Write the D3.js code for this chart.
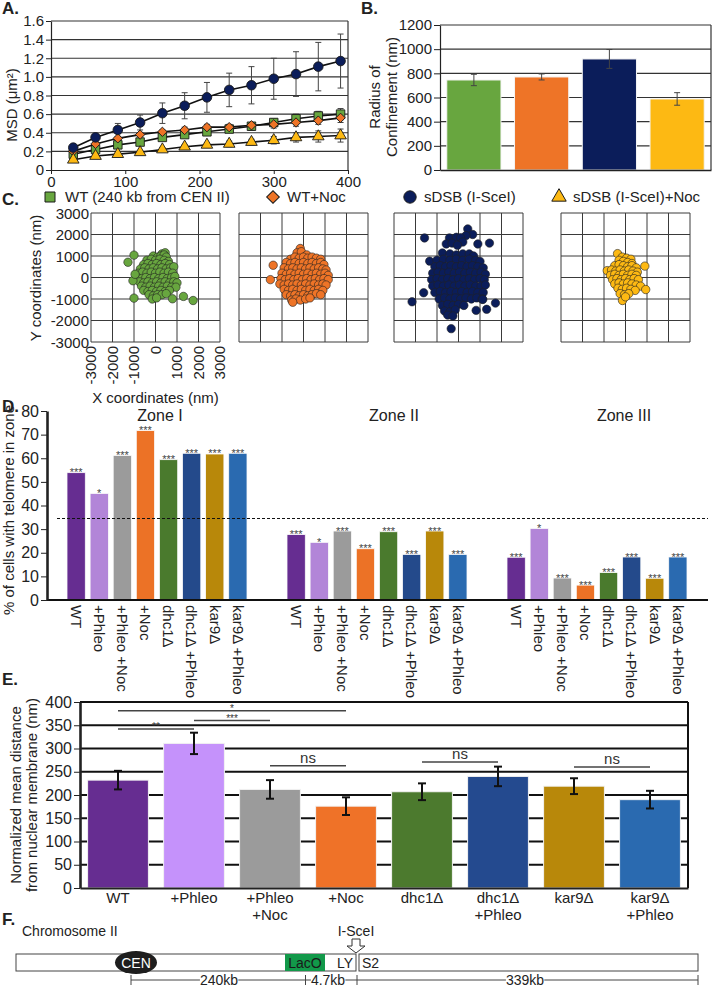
<!DOCTYPE html>
<html><head><meta charset="utf-8">
<script src="https://cdn.jsdelivr.net/npm/d3@7"></script>
<style>body{margin:0;background:#fff} svg{display:block}</style>
</head><body><svg id="c" width="712" height="989"></svg>
<script>
// ---------------- DATA ----------------
const msdTime = [30,60,90,120,150,180,210,240,270,300,330,360,390];
const msdWT     = [0.17,0.22,0.27,0.30,0.35,0.38,0.41,0.44,0.47,0.51,0.55,0.58,0.60];
const msdWTErr  = [0.01,0.01,0.02,0.02,0.02,0.02,0.03,0.03,0.04,0.04,0.05,0.05,0.06];
const msdNoc    = [0.20,0.28,0.34,0.38,0.41,0.43,0.46,0.46,0.48,0.49,0.51,0.53,0.56];
const msdNocErr = [0.01,0.02,0.02,0.02,0.02,0.03,0.03,0.03,0.03,0.04,0.04,0.04,0.05];
const msdDSB    = [0.24,0.35,0.43,0.51,0.61,0.69,0.78,0.86,0.91,0.98,1.03,1.11,1.17];
const msdDSBErr = [0.02,0.03,0.07,0.08,0.11,0.14,0.16,0.18,0.20,0.22,0.24,0.26,0.29];
const msdDSBNoc    = [0.11,0.15,0.17,0.19,0.22,0.25,0.27,0.28,0.30,0.32,0.35,0.36,0.37];
const msdDSBNocErr = [0.01,0.01,0.01,0.01,0.02,0.02,0.02,0.03,0.03,0.04,0.05,0.06,0.07];
const msdXTicks = [0,100,200,300,400];
const msdYTicks = [0,0.2,0.4,0.6,0.8,1.0,1.2,1.4,1.6];

const conditionLabels = ["WT (240 kb from CEN II)","WT+Noc","sDSB (I-SceI)","sDSB (I-SceI)+Noc"];
const confValues = [745,770,919,588];
const confErr    = [47,25,78,52];
const confYTicks = [0,200,400,600,800,1000,1200];

const coordTicks = [-3000,-2000,-1000,0,1000,2000,3000];
const scatterWT = [[300,1100],[450,1150],[-100,1000],[100,950],[250,1000],[400,1050],[500,950],
[-400,800],[-200,850],[0,800],[200,850],[400,800],[600,750],
[-550,600],[-350,650],[-150,600],[50,650],[250,600],[450,650],[650,600],
[-700,400],[-500,450],[-300,400],[-100,450],[100,400],[300,450],[500,400],[700,450],[850,500],
[-800,200],[-600,250],[-400,200],[-200,250],[0,200],[200,250],[400,200],[600,250],[800,200],
[-850,0],[-650,-50],[-450,0],[-250,-50],[-50,0],[150,-50],[350,0],[550,-50],[750,0],[900,50],
[-750,-200],[-550,-250],[-350,-200],[-150,-250],[50,-200],[250,-250],[450,-200],[650,-250],[850,-200],[1000,-250],
[-650,-400],[-450,-450],[-250,-400],[-50,-450],[150,-400],[350,-450],[550,-400],[750,-450],[950,-450],
[-550,-600],[-350,-650],[-150,-600],[50,-650],[250,-600],[450,-650],[650,-600],
[-300,-800],[-100,-850],[100,-800],[300,-800],[500,-750],[-150,-1000],[50,-950],
[-1280,710],[-1000,1040],[-1000,-960],[790,-990],[1300,-880],[1750,-1070],[-1050,-150],[-950,150]];
const scatterWTNoc = [[-150,1350],[-300,1150],[-100,1200],[150,1050],
[-600,850],[-400,950],[-200,900],[0,950],[200,900],[400,950],[600,900],[800,850],
[-800,700],[-600,650],[-400,700],[-200,650],[0,700],[200,650],[400,700],[600,650],[800,700],[950,600],
[-900,450],[-700,400],[-500,450],[-300,400],[-100,450],[100,400],[300,450],[500,400],[700,450],[900,400],[1050,350],
[-1000,200],[-800,150],[-600,200],[-400,150],[-200,200],[0,150],[200,200],[400,150],[600,200],[800,150],[1000,200],[1150,100],
[-1050,-50],[-850,-100],[-650,-50],[-450,-100],[-250,-50],[-50,-100],[150,-50],[350,-100],[550,-50],[750,-100],[950,-50],[1150,-100],
[-1100,-300],[-900,-350],[-700,-300],[-500,-350],[-300,-300],[-100,-350],[100,-300],[300,-350],[500,-300],[700,-350],[900,-300],[1050,-350],
[-900,-550],[-700,-600],[-500,-550],[-300,-600],[-100,-550],[100,-600],[300,-550],[500,-600],[700,-550],[900,-600],
[-800,-800],[-600,-850],[-400,-800],[-200,-850],[0,-800],[200,-850],[400,-800],[600,-750],[800,-800],
[-550,-1050],[-350,-1000],[-150,-1050],[100,-1000],[300,-950],[-500,-1150],
[-1410,570],[-1540,-100]];
const scatterDSB = [[430,2260],[660,2000],[350,1950],[-420,1840],[-100,1870],[100,1850],[-570,1560],[-300,1600],[900,1560],[1440,1600],[-1580,1840],[200,1650],[-50,1500],
[-750,1140],[-400,1100],[-100,1050],[200,1100],[500,1100],[700,1000],
[-1340,760],[-1000,800],[-700,850],[-400,800],[-100,850],[200,800],[500,850],[800,800],[1000,750],
[-1100,500],[-850,550],[-600,500],[-350,550],[-100,500],[150,550],[400,500],[650,550],[900,500],[1150,450],
[-1200,200],[-950,250],[-700,200],[-450,250],[-200,200],[50,250],[300,200],[550,250],[800,200],[1050,250],[1250,150],
[-1250,-100],[-1000,-50],[-750,-100],[-500,-50],[-250,-100],[0,-50],[250,-100],[500,-50],[750,-100],[1000,-50],[1200,-100],
[-1200,-400],[-950,-350],[-700,-400],[-450,-350],[-200,-400],[50,-350],[300,-400],[550,-350],[800,-400],[1050,-400],[1250,-350],
[-1100,-700],[-850,-650],[-600,-700],[-350,-650],[-100,-700],[150,-650],[400,-700],[650,-650],[900,-700],[1150,-700],
[-900,-1000],[-650,-950],[-400,-1000],[-150,-950],[100,-1000],[350,-950],[600,-1000],[850,-950],[1100,-1000],
[-750,-1300],[-500,-1250],[-250,-1300],[0,-1250],[250,-1300],
[-650,-1560],[-400,-1600],[-150,-1500],[-500,-1750],[-260,-1790],
[-2160,-1130],[-1620,-710],[-340,-2380],[820,-1530],[1310,-1480],[1720,-1190],[1130,-1020]];
const scatterDSBNoc = [[-370,1110],[-150,950],[50,900],[250,850],[-300,800],[-100,750],[100,700],[300,650],
[-500,550],[-300,600],[-100,550],[100,500],[300,550],[500,450],[900,530],
[-850,320],[-650,350],[-450,300],[-250,350],[-50,300],[150,350],[350,300],[550,250],
[-700,100],[-500,150],[-300,100],[-100,150],[100,100],[300,150],[500,100],
[-600,-100],[-400,-50],[-200,-100],[0,-50],[200,-100],[400,-50],[600,-100],
[-500,-300],[-300,-250],[-100,-300],[100,-250],[300,-300],[500,-350],[700,-400],[940,-560],
[-350,-500],[-150,-550],[50,-500],[250,-550],[450,-600],[-250,-750],[-50,-800],[150,-750],[-140,-1070],[0,-900]];

const zoneNames = ["Zone I","Zone II","Zone III"];
const strainLabels = ["WT","+Phleo","+Phleo +Noc","+Noc","dhc1Δ","dhc1Δ +Phleo","kar9Δ","kar9Δ +Phleo"];
const zone1 = [53.9,45.1,61.2,71.7,59.4,62.1,61.8,62.1];
const zone2 = [27.7,24.4,29.2,21.7,28.9,19.3,29.2,19.3];
const zone3 = [18.1,30.3,9.3,6.3,11.6,18.2,9.2,18.2];
const zone1Stars = ["***","*","***","***","***","***","***","***"];
const zone2Stars = ["***","*","***","***","***","***","***","***"];
const zone3Stars = ["***","*","***","***","***","***","***","***"];
const zoneRandom = 34.5;
const zoneYTicks = [0,10,20,30,40,50,60,70,80];

const distLabels = [["WT"],["+Phleo"],["+Phleo","+Noc"],["+Noc"],["dhc1Δ"],["dhc1Δ","+Phleo"],["kar9Δ"],["kar9Δ","+Phleo"]];
const distValues = [232,311,212,176,207,240,219,190];
const distErr    = [20,23,20,19,18,21,17,19];
const distYTicks = [0,50,100,150,200,250,300,350,400];
const distBrackets = [
  {a:0,b:3,level:381,label:"*"},
  {a:1,b:2,level:360,label:"***"},
  {a:0,b:1,level:342,label:"**"},
  {a:2,b:3,level:263,label:"ns"},
  {a:4,b:5,level:271,label:"ns"},
  {a:6,b:7,level:260,label:"ns"}
];
const mapLabels = {chrom:"Chromosome II", site:"I-SceI", cen:"CEN", laco:"LacO", ly:"LY", s2:"S2"};
const mapDistances = ["240kb","4.7kb","339kb"];

// ---------------- STYLE ----------------
const FONT = "Liberation Sans, Arial, Helvetica, sans-serif";
const INK = "#222";
const cGreen="#68a63f", cOrange="#ee7427", cNavy="#0b1d5a", cYellow="#fdb913";
const dColors = ["#662d91","#b285d8","#9b9b9b","#ec7226","#4a7a2d","#244a8b","#b8880a","#2a6ab0"];
const eColors = ["#662d91","#c592fb","#9b9b9b","#ef7228","#4c7a2e","#244a8f","#b8880a","#2a6ab0"];

const svg = d3.select("#c").attr("font-family", FONT);
svg.append("rect").attr("width",712).attr("height",989).attr("fill","#fff");

function txt(g,x,y,t,o={}){
  const e=g.append("text").attr("x",x).attr("y",y).text(t)
    .attr("font-size",o.fs||14).attr("fill",o.fill||INK)
    .attr("text-anchor",o.anchor||"start");
  if(o.bold) e.attr("font-weight","bold");
  if(o.rot) e.attr("transform",`rotate(${o.rot},${x},${y})`);
  return e;
}
function styleAxis(g,fs,sw){
  g.attr("font-family",FONT).attr("font-size",fs);
  g.selectAll("text").attr("fill",INK);
  g.selectAll("line").attr("stroke",INK);
  g.selectAll("path.domain").attr("stroke",INK).attr("stroke-width",sw||1);
}
// panel letters
[["A.",2,14],["B.",361,14],["C.",2,205],["D.",2,412],["E.",2,685],["F.",2,925]].forEach(p=>txt(svg,p[1],p[2],p[0],{fs:17,bold:true}));

// ---------------- A ----------------
{
const g=svg.append("g");
const x=d3.scaleLinear().domain([0,400]).range([51,348]);
const y=d3.scaleLinear().domain([0,1.6]).range([170,21]);
g.selectAll("line.grid").data(msdYTicks.filter(d=>d>0)).join("line")
  .attr("x1",x(0)).attr("x2",x(400)).attr("y1",d=>y(d)).attr("y2",d=>y(d))
  .attr("stroke","#333").attr("stroke-width",1.2);
g.append("line").attr("x1",x(400)).attr("x2",x(400)).attr("y1",y(0)).attr("y2",y(1.6)).attr("stroke","#333").attr("stroke-width",1.2);
const xa=g.append("g").attr("transform",`translate(0,${y(0)})`).call(d3.axisBottom(x).tickValues(msdXTicks).tickSize(4).tickSizeOuter(0).tickPadding(2));
styleAxis(xa,15,1.2);
const ya=g.append("g").attr("transform",`translate(${x(0)},0)`).call(d3.axisLeft(y).tickValues(msdYTicks).tickSize(5).tickSizeOuter(0).tickPadding(2).tickFormat(d=>d===0?"0":d3.format(".1f")(d)));
styleAxis(ya,15,1.2);
txt(g,17,105,"MSD (μm²)",{fs:15,anchor:"middle",rot:-90});
const series=[
  {v:msdWT,e:msdWTErr,c:cGreen,sym:d3.symbolSquare,size:72,rot:0},
  {v:msdNoc,e:msdNocErr,c:cOrange,sym:d3.symbolSquare,size:44,rot:45},
  {v:msdDSBNoc,e:msdDSBNocErr,c:cYellow,sym:d3.symbolTriangle,size:58,rot:0},
  {v:msdDSB,e:msdDSBErr,c:cNavy,sym:d3.symbolCircle,size:72,rot:0}
];
const line=d3.line().x((d,i)=>x(msdTime[i])).y(d=>y(d));
series.forEach(s=>{
  const eg=g.append("g").attr("stroke","#444").attr("stroke-width",1);
  s.v.forEach((v,i)=>{
    const cx=x(msdTime[i]);
    eg.append("line").attr("x1",cx).attr("x2",cx).attr("y1",y(v-s.e[i])).attr("y2",y(v+s.e[i]));
    eg.append("line").attr("x1",cx-3).attr("x2",cx+3).attr("y1",y(v-s.e[i])).attr("y2",y(v-s.e[i]));
    eg.append("line").attr("x1",cx-3).attr("x2",cx+3).attr("y1",y(v+s.e[i])).attr("y2",y(v+s.e[i]));
  });
});
series.forEach(s=>{
  g.append("path").attr("d",line(s.v)).attr("fill","none").attr("stroke","#111").attr("stroke-width",1.6);
  g.selectAll(null).data(s.v).join("path")
    .attr("d",d3.symbol(s.sym,s.size))
    .attr("transform",(d,i)=>`translate(${x(msdTime[i])},${y(d)}) rotate(${s.rot})`)
    .attr("fill",s.c).attr("stroke","#1a1a1a").attr("stroke-width",0.9);
});
}

// ---------------- B ----------------
{
const g=svg.append("g");
const x=d3.scaleBand().domain(conditionLabels).range([440,711]).paddingInner(0.2).paddingOuter(0.1);
const y=d3.scaleLinear().domain([0,1200]).range([170,25]);
const cols=[cGreen,cOrange,cNavy,cYellow];
g.selectAll("line.grid").data(confYTicks.filter(d=>d>0)).join("line")
  .attr("x1",440).attr("x2",711).attr("y1",d=>y(d)).attr("y2",d=>y(d)).attr("stroke","#333").attr("stroke-width",1.2);
g.append("line").attr("x1",711).attr("x2",711).attr("y1",y(0)).attr("y2",y(1200)).attr("stroke","#333").attr("stroke-width",1.2);
g.selectAll("rect").data(confValues).join("rect")
  .attr("x",(d,i)=>x(conditionLabels[i])).attr("width",x.bandwidth())
  .attr("y",d=>y(d)).attr("height",d=>y(0)-y(d))
  .attr("fill",(d,i)=>cols[i]).attr("stroke","#f4f4f4").attr("stroke-width",1);
confValues.forEach((v,i)=>{
  const cx=x(conditionLabels[i])+x.bandwidth()/2, e=confErr[i];
  const eg=g.append("g").attr("stroke","#444").attr("stroke-width",1);
  eg.append("line").attr("x1",cx).attr("x2",cx).attr("y1",y(v-e)).attr("y2",y(v+e));
  eg.append("line").attr("x1",cx-3).attr("x2",cx+3).attr("y1",y(v-e)).attr("y2",y(v-e));
  eg.append("line").attr("x1",cx-3).attr("x2",cx+3).attr("y1",y(v+e)).attr("y2",y(v+e));
});
const xa=g.append("g").attr("transform",`translate(0,${y(0)})`).call(d3.axisBottom(x).tickSize(0).tickFormat(""));
styleAxis(xa,15,1.5);
const ya=g.append("g").attr("transform",`translate(440,0)`).call(d3.axisLeft(y).tickValues(confYTicks).tickSize(6).tickSizeOuter(0).tickPadding(2).tickFormat(d3.format("d")));
styleAxis(ya,15,1.2);
txt(g,380,97,"Radius of",{fs:15,anchor:"middle",rot:-90});
txt(g,397,97,"Confinement (nm)",{fs:15,anchor:"middle",rot:-90});
}

// ---------------- C ----------------
{
const g=svg.append("g");
const leg=[{x:50,sym:d3.symbolSquare,size:100,rot:0,c:cGreen,tx:65},
           {x:273,sym:d3.symbolSquare,size:80,rot:45,c:cOrange,tx:287},
           {x:410,sym:d3.symbolCircle,size:120,rot:0,c:cNavy,tx:424},
           {x:559,sym:d3.symbolTriangle,size:90,rot:0,c:cYellow,tx:573}];
leg.forEach((l,i)=>{
  g.append("path").attr("d",d3.symbol(l.sym,l.size)).attr("transform",`translate(${l.x},197) rotate(${l.rot})`)
   .attr("fill",l.c).attr("stroke","#1a1a1a").attr("stroke-width",1);
  txt(g,l.tx,202,conditionLabels[i],{fs:15});
});
const lefts=[91,239,394,561], top=213, S=129;
const sets=[scatterWT,scatterWTNoc,scatterDSB,scatterDSBNoc];
const cols=[cGreen,cOrange,cNavy,cYellow];
lefts.forEach((L,k)=>{
  const x=d3.scaleLinear().domain([-3000,3000]).range([L,L+S]);
  const y=d3.scaleLinear().domain([-3000,3000]).range([top+S,top]);
  const pg=g.append("g");
  pg.selectAll("line.v").data(coordTicks).join("line").attr("x1",d=>x(d)).attr("x2",d=>x(d)).attr("y1",y(-3000)).attr("y2",y(3000)).attr("stroke","#3a3a3a").attr("stroke-width",1);
  pg.selectAll("line.h").data(coordTicks).join("line").attr("y1",d=>y(d)).attr("y2",d=>y(d)).attr("x1",x(-3000)).attr("x2",x(3000)).attr("stroke","#3a3a3a").attr("stroke-width",1);
  pg.selectAll("circle").data(sets[k]).join("circle").attr("cx",d=>x(d[0])).attr("cy",d=>y(d[1])).attr("r",4.2)
    .attr("fill",cols[k]).attr("stroke","#222").attr("stroke-width",0.6);
  if(k===0){
    pg.selectAll("text.yl").data(coordTicks).join("text").attr("x",L-2).attr("y",d=>y(d)+5.5).attr("text-anchor","end")
      .attr("font-size",15).attr("fill",INK).text(d=>d);
    pg.selectAll("text.xl").data(coordTicks).join("text")
      .attr("transform",d=>`translate(${x(d)},${top+S+4}) rotate(-90)`).attr("dy","0.35em").attr("text-anchor","end")
      .attr("font-size",15).attr("fill",INK).text(d=>d);
    txt(pg,41,278,"Y coordinates (nm)",{fs:15,anchor:"middle",rot:-90});
    txt(pg,L+S/2,403,"X coordinates (nm)",{fs:15,anchor:"middle"});
  }
});
}

// ---------------- D ----------------
{
const g=svg.append("g");
const y=d3.scaleLinear().domain([0,80]).range([600,411]);
const zx=d3.scaleBand().domain(zoneNames).range([67,727]);
const ix=d3.scaleBand().domain(strainLabels).range([0,180]).paddingInner(0.208);
const zones=[zone1,zone2,zone3], stars=[zone1Stars,zone2Stars,zone3Stars];
const titleShift=[3,17,27];
zoneNames.forEach((z,zi)=>{
  const zg=g.append("g").attr("transform",`translate(${zx(z)},0)`);
  zg.selectAll("rect").data(zones[zi]).join("rect")
    .attr("x",(d,i)=>ix(strainLabels[i])).attr("width",ix.bandwidth())
    .attr("y",d=>y(d)).attr("height",d=>y(0)-y(d)).attr("fill",(d,i)=>dColors[i])
    .attr("stroke","#fafafa").attr("stroke-width",0.8);
  zg.selectAll("text.st").data(zones[zi]).join("text")
    .attr("x",(d,i)=>ix(strainLabels[i])+ix.bandwidth()/2).attr("y",d=>y(d)+3.5)
    .attr("text-anchor","middle").attr("font-size",11).attr("fill","#444").text((d,i)=>stars[zi][i]);
  zg.selectAll("text.xl").data(strainLabels).join("text")
    .attr("transform",d=>`translate(${ix(d)+ix.bandwidth()/2},605) rotate(90)`).attr("dy","0.35em")
    .attr("font-size",15).attr("fill",INK).text(d=>d);
  txt(g,zx(z)+90+titleShift[zi],421,z,{fs:16,anchor:"middle"});
});
g.append("line").attr("x1",57).attr("x2",708).attr("y1",y(zoneRandom)).attr("y2",y(zoneRandom))
  .attr("stroke","#111").attr("stroke-width",1.2).attr("stroke-dasharray","3,2");
g.append("line").attr("x1",47).attr("x2",708).attr("y1",y(0)).attr("y2",y(0)).attr("stroke","#111").attr("stroke-width",2);
const ya=g.append("g").attr("transform","translate(47,0)").call(d3.axisLeft(y).tickValues(zoneYTicks).tickSize(6).tickSizeOuter(0).tickPadding(2));
styleAxis(ya,16,2.6);
txt(g,14,510,"% of cells with telomere in zone",{fs:15,anchor:"middle",rot:-90});
}

// ---------------- E ----------------
{
const g=svg.append("g");
const x=d3.scaleBand().domain(d3.range(distValues.length)).range([80,688]).paddingInner(0.2).paddingOuter(0.1);
const y=d3.scaleLinear().domain([0,400]).range([888,702]);
g.selectAll("line.grid").data(distYTicks.filter(d=>d>0)).join("line")
  .attr("x1",80).attr("x2",688).attr("y1",d=>y(d)).attr("y2",d=>y(d)).attr("stroke","#111").attr("stroke-width",2);
g.append("line").attr("x1",688).attr("x2",688).attr("y1",y(0)).attr("y2",y(400)).attr("stroke","#111").attr("stroke-width",2);
g.selectAll("rect").data(distValues).join("rect")
  .attr("x",(d,i)=>x(i)).attr("width",x.bandwidth()).attr("y",d=>y(d)).attr("height",d=>y(0)-y(d))
  .attr("fill",(d,i)=>eColors[i]).attr("stroke","#f2f2f2").attr("stroke-width",1);
distValues.forEach((v,i)=>{
  const cx=x(i)+x.bandwidth()/2, e=distErr[i];
  const eg=g.append("g").attr("stroke","#111").attr("stroke-width",2);
  eg.append("line").attr("x1",cx).attr("x2",cx).attr("y1",y(v-e)).attr("y2",y(v+e));
  eg.append("line").attr("x1",cx-4).attr("x2",cx+4).attr("y1",y(v-e)).attr("y2",y(v-e));
  eg.append("line").attr("x1",cx-4).attr("x2",cx+4).attr("y1",y(v+e)).attr("y2",y(v+e));
  distLabels[i].forEach((t,j)=>txt(g,cx,903+j*17,t,{fs:15,anchor:"middle"}));
});
distBrackets.forEach(b=>{
  const x1=x(b.a)+x.bandwidth()/2, x2=x(b.b)+x.bandwidth()/2, yy=y(b.level);
  g.append("line").attr("x1",x1).attr("x2",x2).attr("y1",yy).attr("y2",yy).attr("stroke","#444").attr("stroke-width",1.5);
  const isNs=b.label==="ns";
  txt(g,(x1+x2)/2,isNs?yy-3:yy+1.5,b.label,{fs:isNs?15:10,anchor:"middle",fill:"#333"});
});
const xa=g.append("g").attr("transform",`translate(0,${y(0)})`).call(d3.axisBottom(x).tickSize(0).tickFormat(""));
styleAxis(xa,15,2.2);
const ya=g.append("g").attr("transform","translate(80,0)").call(d3.axisLeft(y).tickValues(distYTicks).tickSize(6).tickSizeOuter(0).tickPadding(2));
styleAxis(ya,16,2.6);
txt(g,21,795,"Normalized mean distance",{fs:15,anchor:"middle",rot:-90});
txt(g,37,795,"from nuclear membrane (nm)",{fs:15,anchor:"middle",rot:-90});
}

// ---------------- F ----------------
{
const g=svg.append("g");
txt(g,22,936,mapLabels.chrom,{fs:14});
txt(g,356,936,mapLabels.site,{fs:14,anchor:"middle"});
g.append("path").attr("d","M352,939 L360,939 L360,946 L365,946 L356,953 L347,946 L352,946 Z")
  .attr("fill","#fff").attr("stroke","#333").attr("stroke-width",1);
g.append("rect").attr("x",16).attr("y",954).attr("width",340).attr("height",17).attr("fill","#fff").attr("stroke","#444");
g.append("rect").attr("x",359).attr("y",954).attr("width",339).attr("height",17).attr("fill","#fff").attr("stroke","#444");
g.append("rect").attr("x",285).attr("y",954).attr("width",40).attr("height",17).attr("fill","#12994a");
txt(g,305,967.5,mapLabels.laco,{fs:14,anchor:"middle",fill:"#1a1a1a"});
txt(g,353,967.5,mapLabels.ly,{fs:14,anchor:"end"});
txt(g,362,967.5,mapLabels.s2,{fs:14});
g.append("ellipse").attr("cx",136).attr("cy",962.5).attr("rx",21).attr("ry",11.5).attr("fill","#1e1e1e");
txt(g,136,968,mapLabels.cen,{fs:14,anchor:"middle",fill:"#fff"});
const ticks=[131,305.5,357,698];
g.append("line").attr("x1",ticks[0]).attr("x2",ticks[3]).attr("y1",980).attr("y2",980).attr("stroke","#444");
ticks.forEach(t=>g.append("line").attr("x1",t).attr("x2",t).attr("y1",975).attr("y2",985).attr("stroke","#444"));
[219,328,525].forEach((cx,i)=>{
  const t=txt(g,cx,985,mapDistances[i],{fs:14,anchor:"middle"});
  const bb=t.node().getBBox();
  g.insert("rect",()=>t.node()).attr("x",bb.x).attr("y",976).attr("width",bb.width).attr("height",8).attr("fill","#fff");
});
}
</script></body></html>
